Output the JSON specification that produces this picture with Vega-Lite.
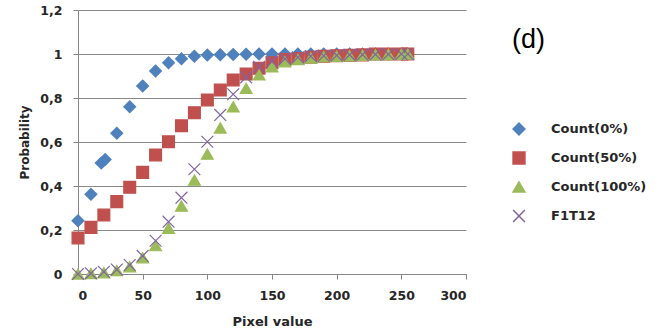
{
  "$schema": "https://vega.github.io/schema/vega-lite/v6.json",
  "width": 388,
  "height": 264,
  "autosize": {"type": "none"},
  "padding": {"left": 78, "top": 10, "right": 202, "bottom": 57},
  "background": "white",
  "title": {"text": "(d)", "anchor": "start", "frame": "group", "orient": "top", "dx": 434, "dy": 54, "baseline": "top", "fontSize": 27, "font": "Liberation Sans", "fontWeight": "normal", "color": "#000000"},
  "datasets": {
    "d": [
      {"x":0,"p":0.242,"s":"Count(0%)"},{"x":10,"p":0.362,"s":"Count(0%)"},{"x":18,"p":0.505,"s":"Count(0%)"},{"x":21,"p":0.52,"s":"Count(0%)"},{"x":30,"p":0.64,"s":"Count(0%)"},{"x":40,"p":0.76,"s":"Count(0%)"},{"x":50,"p":0.855,"s":"Count(0%)"},{"x":60,"p":0.923,"s":"Count(0%)"},{"x":70,"p":0.96,"s":"Count(0%)"},{"x":80,"p":0.978,"s":"Count(0%)"},{"x":90,"p":0.99,"s":"Count(0%)"},{"x":100,"p":0.995,"s":"Count(0%)"},{"x":110,"p":0.997,"s":"Count(0%)"},{"x":120,"p":0.998,"s":"Count(0%)"},{"x":130,"p":0.999,"s":"Count(0%)"},{"x":140,"p":1,"s":"Count(0%)"},{"x":150,"p":1,"s":"Count(0%)"},{"x":160,"p":1,"s":"Count(0%)"},{"x":170,"p":1,"s":"Count(0%)"},{"x":180,"p":1,"s":"Count(0%)"},{"x":190,"p":1,"s":"Count(0%)"},{"x":200,"p":1,"s":"Count(0%)"},{"x":210,"p":1,"s":"Count(0%)"},{"x":220,"p":1,"s":"Count(0%)"},{"x":230,"p":1,"s":"Count(0%)"},{"x":240,"p":1,"s":"Count(0%)"},{"x":250,"p":1,"s":"Count(0%)"},{"x":255,"p":1,"s":"Count(0%)"},
      {"x":0,"p":0.164,"s":"Count(50%)"},{"x":10,"p":0.212,"s":"Count(50%)"},{"x":20,"p":0.268,"s":"Count(50%)"},{"x":30,"p":0.329,"s":"Count(50%)"},{"x":40,"p":0.394,"s":"Count(50%)"},{"x":50,"p":0.462,"s":"Count(50%)"},{"x":60,"p":0.541,"s":"Count(50%)"},{"x":70,"p":0.601,"s":"Count(50%)"},{"x":80,"p":0.674,"s":"Count(50%)"},{"x":90,"p":0.733,"s":"Count(50%)"},{"x":100,"p":0.791,"s":"Count(50%)"},{"x":110,"p":0.836,"s":"Count(50%)"},{"x":120,"p":0.882,"s":"Count(50%)"},{"x":130,"p":0.909,"s":"Count(50%)"},{"x":140,"p":0.935,"s":"Count(50%)"},{"x":150,"p":0.96,"s":"Count(50%)"},{"x":160,"p":0.975,"s":"Count(50%)"},{"x":170,"p":0.98,"s":"Count(50%)"},{"x":180,"p":0.985,"s":"Count(50%)"},{"x":190,"p":0.99,"s":"Count(50%)"},{"x":200,"p":0.992,"s":"Count(50%)"},{"x":210,"p":0.994,"s":"Count(50%)"},{"x":220,"p":0.996,"s":"Count(50%)"},{"x":230,"p":1,"s":"Count(50%)"},{"x":240,"p":1,"s":"Count(50%)"},{"x":250,"p":1,"s":"Count(50%)"},{"x":255,"p":1,"s":"Count(50%)"},
      {"x":0,"p":0,"s":"Count(100%)"},{"x":10,"p":0.002,"s":"Count(100%)"},{"x":20,"p":0.006,"s":"Count(100%)"},{"x":30,"p":0.016,"s":"Count(100%)"},{"x":40,"p":0.033,"s":"Count(100%)"},{"x":50,"p":0.074,"s":"Count(100%)"},{"x":60,"p":0.129,"s":"Count(100%)"},{"x":70,"p":0.208,"s":"Count(100%)"},{"x":80,"p":0.309,"s":"Count(100%)"},{"x":90,"p":0.427,"s":"Count(100%)"},{"x":100,"p":0.545,"s":"Count(100%)"},{"x":110,"p":0.664,"s":"Count(100%)"},{"x":120,"p":0.76,"s":"Count(100%)"},{"x":130,"p":0.844,"s":"Count(100%)"},{"x":140,"p":0.905,"s":"Count(100%)"},{"x":150,"p":0.942,"s":"Count(100%)"},{"x":160,"p":0.965,"s":"Count(100%)"},{"x":170,"p":0.975,"s":"Count(100%)"},{"x":180,"p":0.982,"s":"Count(100%)"},{"x":190,"p":0.988,"s":"Count(100%)"},{"x":200,"p":0.99,"s":"Count(100%)"},{"x":210,"p":0.992,"s":"Count(100%)"},{"x":220,"p":0.994,"s":"Count(100%)"},{"x":230,"p":0.996,"s":"Count(100%)"},{"x":240,"p":0.998,"s":"Count(100%)"},{"x":250,"p":0.999,"s":"Count(100%)"},{"x":255,"p":1,"s":"Count(100%)"},
      {"x":0,"p":0,"s":"F1T12"},{"x":10,"p":0.003,"s":"F1T12"},{"x":20,"p":0.01,"s":"F1T12"},{"x":30,"p":0.02,"s":"F1T12"},{"x":40,"p":0.041,"s":"F1T12"},{"x":50,"p":0.082,"s":"F1T12"},{"x":60,"p":0.151,"s":"F1T12"},{"x":70,"p":0.238,"s":"F1T12"},{"x":80,"p":0.347,"s":"F1T12"},{"x":90,"p":0.476,"s":"F1T12"},{"x":100,"p":0.601,"s":"F1T12"},{"x":110,"p":0.723,"s":"F1T12"},{"x":120,"p":0.817,"s":"F1T12"},{"x":130,"p":0.894,"s":"F1T12"},{"x":140,"p":0.942,"s":"F1T12"},{"x":150,"p":0.965,"s":"F1T12"},{"x":160,"p":0.978,"s":"F1T12"},{"x":170,"p":0.985,"s":"F1T12"},{"x":180,"p":0.99,"s":"F1T12"},{"x":190,"p":0.992,"s":"F1T12"},{"x":200,"p":0.994,"s":"F1T12"},{"x":210,"p":0.996,"s":"F1T12"},{"x":220,"p":0.997,"s":"F1T12"},{"x":230,"p":0.998,"s":"F1T12"},{"x":240,"p":0.999,"s":"F1T12"},{"x":250,"p":1,"s":"F1T12"},{"x":255,"p":1,"s":"F1T12"}
    ]
  },
  "data": {"name": "d"},
  "mark": {"type": "point", "filled": true, "opacity": 1, "strokeWidth": 1.2},
  "encoding": {
    "x": {"field": "x", "type": "quantitative", "scale": {"domain": [0, 300], "nice": false},
      "axis": {"values": [0,50,100,150,200,250,300], "title": "Pixel value", "grid": false, "domainColor": "#868686", "tickColor": "#868686", "tickSize": 5, "labelFont": "DejaVu Sans", "labelFontSize": 12.5, "labelFontWeight": "bold", "labelColor": "#262626", "labelPadding": 10, "titleFont": "DejaVu Sans", "titleFontSize": 13, "titleFontWeight": "bold", "titleColor": "#262626", "titlePadding": 14}},
    "y": {"field": "p", "type": "quantitative", "scale": {"domain": [0, 1.2], "nice": false},
      "axis": {"values": [0,0.2,0.4,0.6,0.8,1,1.2], "labelExpr": "replace(datum.label, '.', ',')", "format": "~g", "title": "Probability", "grid": true, "gridColor": "#8a8a8a", "gridWidth": 1, "domainColor": "#868686", "ticks": true, "tickSize": 5, "tickColor": "#868686", "labelFont": "DejaVu Sans", "labelFontSize": 12.5, "labelFontWeight": "bold", "labelColor": "#262626", "labelPadding": 11, "titleFont": "DejaVu Sans", "titleFontSize": 12, "titleFontWeight": "bold", "titleColor": "#262626", "titlePadding": 8}},
    "color": {"field": "s", "type": "nominal", "scale": {"domain": ["Count(0%)","Count(50%)","Count(100%)","F1T12"], "range": ["#4F81BD","#C0504D","#9BBB59","#8064A2"]},
      "legend": {"title": null, "orient": "none", "legendX": 434, "legendY": 112, "padding": 0, "labelFont": "DejaVu Sans", "labelFontSize": 13, "labelFontWeight": "bold", "labelColor": "#262626", "rowPadding": 11, "labelOffset": 25}},
    "stroke": {"field": "s", "type": "nominal", "scale": {"domain": ["Count(0%)","Count(50%)","Count(100%)","F1T12"], "range": ["#4F81BD","#C0504D","#9BBB59","#8064A2"]}},
    "shape": {"field": "s", "type": "nominal", "scale": {"domain": ["Count(0%)","Count(50%)","Count(100%)","F1T12"], "range": ["diamond","square","triangle-up","M-1,-1L1,1M-1,1L1,-1"]}},
    "size": {"field": "s", "type": "nominal", "scale": {"domain": ["Count(0%)","Count(50%)","Count(100%)","F1T12"], "range": [140, 140, 190, 110]}}
  },
  "config": {"view": {"stroke": null}}
}
